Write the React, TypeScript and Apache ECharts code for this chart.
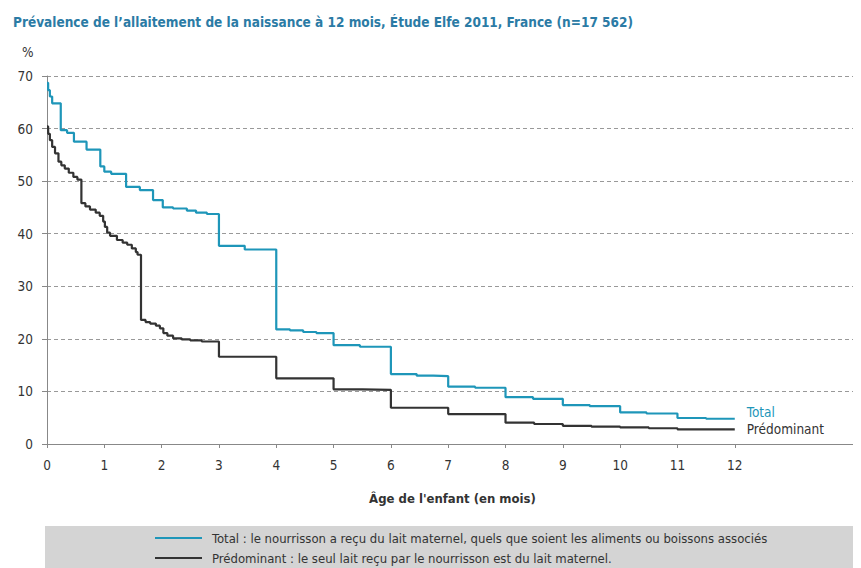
import React, { useEffect, useRef } from "react";
import * as echarts from "echarts";

const totalMonths = [0, 0.02, 0.05, 0.09, 0.24, 0.35, 0.47, 0.69, 0.93, 1.0, 1.12, 1.38, 1.62, 1.85, 2.02, 2.2, 2.44, 2.6, 2.79, 3.0, 3.45, 4.0, 4.24, 4.47, 4.7, 5.0, 5.46, 6.0, 6.45, 6.74, 7.0, 7.47, 8.0, 8.48, 9.0, 9.47, 10.0, 10.46, 11.0, 11.5, 12.0];
const totalValues = [68.7, 67.3, 66.1, 64.8, 59.7, 59.2, 57.5, 56.0, 52.8, 51.8, 51.4, 48.9, 48.3, 46.4, 45.0, 44.8, 44.4, 44.0, 43.75, 37.7, 37.0, 21.8, 21.6, 21.3, 21.1, 18.8, 18.5, 13.3, 13.0, 12.9, 10.9, 10.7, 8.9, 8.6, 7.4, 7.2, 6.0, 5.8, 4.95, 4.8, 4.8];

const predMonths = [0, 0.02, 0.05, 0.09, 0.14, 0.2, 0.25, 0.31, 0.38, 0.46, 0.53, 0.6, 0.67, 0.75, 0.85, 0.92, 0.98, 1.01, 1.05, 1.1, 1.22, 1.32, 1.4, 1.48, 1.55, 1.58, 1.64, 1.72, 1.8, 1.9, 1.97, 2.03, 2.1, 2.2, 2.35, 2.5, 2.7, 3.0, 4.0, 5.0, 5.5, 6.0, 7.0, 8.0, 8.5, 9.0, 9.5, 10.0, 10.5, 11.0, 12.0];
const predValues = [60.4, 59.0, 57.8, 56.5, 55.3, 53.7, 53.0, 52.4, 51.6, 50.8, 50.3, 45.8, 45.2, 44.6, 44.0, 43.4, 42.3, 41.3, 40.2, 39.6, 38.8, 38.3, 37.9, 37.2, 36.5, 36.0, 23.6, 23.2, 22.9, 22.5, 22.0, 21.1, 20.6, 20.1, 19.9, 19.7, 19.5, 16.6, 12.5, 10.4, 10.3, 6.9, 5.7, 4.05, 3.8, 3.45, 3.3, 3.15, 3.0, 2.8, 2.8];

const xTicks = [0, 1, 2, 3, 4, 5, 6, 7, 8, 9, 10, 11, 12];
const seriesNames = ["Total", "Prédominant"];
const legendTexts = [
  "Total : le nourrisson a reçu du lait maternel, quels que soient les aliments ou boissons associés",
  "Prédominant : le seul lait reçu par le nourrisson est du lait maternel.",
];

const FONT = "'DejaVu Sans Condensed', 'Liberation Sans Narrow', sans-serif";
const TEAL = "#1e96b9";
const DARK = "#333333";
const seriesColors = [TEAL, DARK];

export default function App() {
  const ref = useRef<HTMLDivElement>(null);
  useEffect(() => {
    if (!ref.current) return;
    const chart = echarts.init(ref.current, undefined, { renderer: "svg" });
    const totalData = totalMonths.map((m, i) => [m, totalValues[i]]);
    const predData = predMonths.map((m, i) => [m, predValues[i]]);

    const legendGraphics: any[] = [];
    legendTexts.forEach((t, i) => {
      const y = 530 + i * 20;
      legendGraphics.push({
        type: "line",
        shape: { x1: 147, y1: y, x2: 194, y2: y },
        style: { stroke: seriesColors[i], lineWidth: 2.2 },
      });
      legendGraphics.push({
        type: "text",
        x: 204,
        y: y,
        style: {
          text: t,
          fontFamily: FONT,
          fontSize: 13,
          fill: DARK,
          verticalAlign: "middle",
          align: "left",
        },
      });
    });

    chart.setOption({
      animation: false,
      backgroundColor: "#ffffff",
      textStyle: { fontFamily: FONT },
      title: {
        text: "Prévalence de l’allaitement de la naissance à 12 mois, Étude Elfe 2011, France (n=17 562)",
        left: 0,
        top: 2,
        textStyle: { fontFamily: FONT, fontSize: 13.5, fontWeight: "bold", color: "#2b7ba5" },
      },
      graphic: [
        {
          type: "rect",
          x: 37,
          y: 518,
          shape: { width: 830, height: 60 },
          style: { fill: "#d4d4d4" },
          z: -1,
        },
        {
          type: "text",
          x: 14,
          y: 44,
          style: { text: "%", fontFamily: FONT, fontSize: 13.5, fill: DARK, verticalAlign: "middle" },
        },
        ...legendGraphics,
      ],
      grid: { left: 39, right: 3, top: 68, bottom: 124, containLabel: false },
      xAxis: {
        type: "value",
        min: 0,
        max: 14.15,
        interval: 1,
        name: "Âge de l'enfant (en mois)",
        nameLocation: "middle",
        nameGap: 48,
        nameTextStyle: { fontFamily: FONT, fontSize: 13, fontWeight: "bold", color: DARK },
        axisLine: { show: true, lineStyle: { color: "#888888", width: 1 } },
        axisTick: { show: true, length: 4, lineStyle: { color: "#888888" }, customValues: xTicks },
        axisLabel: { fontFamily: FONT, fontSize: 13.5, color: DARK, margin: 14, customValues: xTicks },
        splitLine: { show: false },
      },
      yAxis: {
        type: "value",
        min: 0,
        max: 70,
        interval: 10,
        axisLine: { show: true, lineStyle: { color: "#888888", width: 1 } },
        axisTick: { show: true, length: 5, lineStyle: { color: "#888888" } },
        axisLabel: { fontFamily: FONT, fontSize: 13.5, color: DARK, margin: 14 },
        splitLine: { show: true, lineStyle: { color: "#999999", type: [4, 3], width: 1 } },
      },
      series: [
        {
          name: seriesNames[0],
          type: "line",
          step: "end",
          data: totalData,
          showSymbol: false,
          symbol: "none",
          lineStyle: { color: TEAL, width: 2.2 },
          itemStyle: { color: TEAL },
          endLabel: {
            show: true,
            formatter: "Total",
            distance: 12,
            offset: [0, -7],
            fontFamily: FONT,
            fontSize: 13.5,
            color: TEAL,
          },
          z: 3,
        },
        {
          name: seriesNames[1],
          type: "line",
          step: "end",
          data: predData,
          showSymbol: false,
          symbol: "none",
          lineStyle: { color: DARK, width: 2.2 },
          itemStyle: { color: DARK },
          endLabel: {
            show: true,
            formatter: "Prédominant",
            distance: 12,
            offset: [0, 0],
            fontFamily: FONT,
            fontSize: 13.5,
            color: DARK,
          },
          z: 2,
        },
      ],
    });
    return () => chart.dispose();
  }, []);
  return <div ref={ref} style={{ width: 853, height: 560 }} />;
}
